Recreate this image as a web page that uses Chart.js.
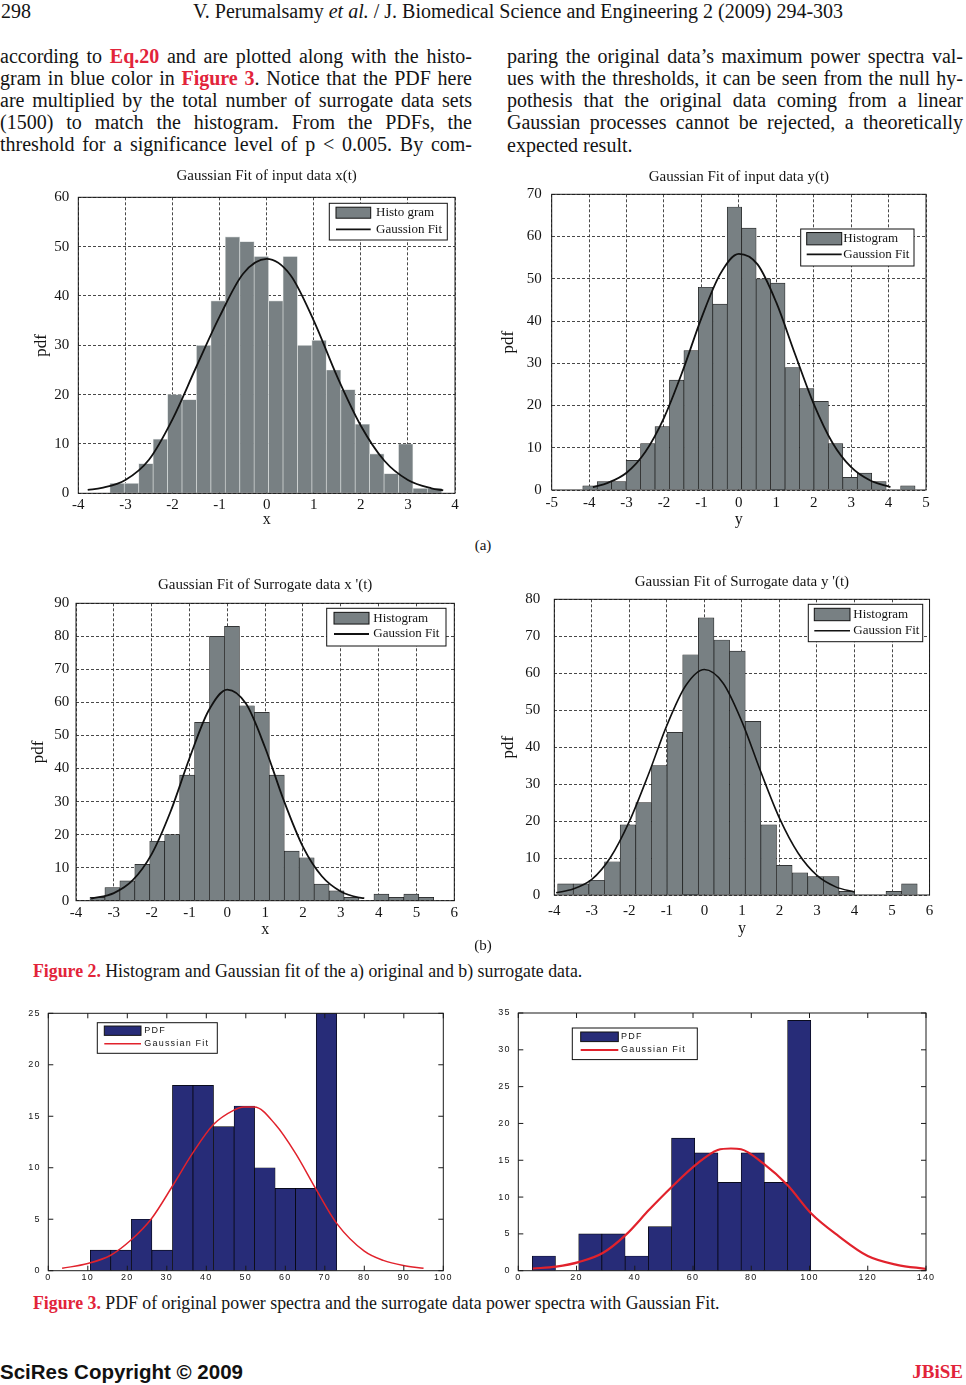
<!DOCTYPE html>
<html>
<head>
<meta charset="utf-8">
<script src="https://cdn.jsdelivr.net/npm/chart.js@4.4.0/dist/chart.umd.min.js"></script>
<style>
  body { margin: 0; background: #fff; width: 966px; height: 1385px; position: relative; overflow: hidden;
         font-family: "Liberation Serif", "Times New Roman", serif; color: #141414; }
  .t { position: absolute; white-space: nowrap; }
  .j { position: absolute; font-size: 20px; line-height: 22px; height: 22px; white-space: nowrap;
       text-align: justify; text-align-last: justify; }
  .red { color: #e2243a; font-weight: bold; }
  canvas { position: absolute; }
</style>
</head>
<body>

<div class="t" style="left:1px;top:0;font-size:20px;line-height:22px">298</div>
<div class="t" style="left:193px;top:0;font-size:20px;line-height:22px">V. Perumalsamy <i>et al.</i> / J. Biomedical Science and Engineering 2 (2009) 294-303</div>

<div class="j" style="left:0;top:45px;width:472px">according to <span class="red">Eq.20</span> and are plotted along with the histo-</div>
<div class="j" style="left:0;top:67px;width:472px">gram in blue color in <span class="red">Figure 3</span>. Notice that the PDF here</div>
<div class="j" style="left:0;top:89px;width:472px">are multiplied by the total number of surrogate data sets</div>
<div class="j" style="left:0;top:111px;width:472px">(1500) to match the histogram. From the PDFs, the</div>
<div class="j" style="left:0;top:133px;width:472px">threshold for a significance level of p &lt; 0.005. By com-</div>

<div class="j" style="left:507px;top:45px;width:456px">paring the original data’s maximum power spectra val-</div>
<div class="j" style="left:507px;top:67px;width:456px">ues with the thresholds, it can be seen from the null hy-</div>
<div class="j" style="left:507px;top:89px;width:456px">pothesis that the original data coming from a linear</div>
<div class="j" style="left:507px;top:111px;width:456px">Gaussian processes cannot be rejected, a theoretically</div>
<div class="t" style="left:507px;top:134px;font-size:20px;line-height:22px">expected result.</div>

<canvas id="c1" width="450" height="370" style="left:20px;top:160px"></canvas>
<canvas id="c2" width="450" height="370" style="left:490px;top:160px"></canvas>
<div class="t" style="left:0;width:966px;top:536px;font-size:15px;line-height:18px;text-align:center">(a)</div>

<canvas id="c3" width="450" height="370" style="left:20px;top:570px"></canvas>
<canvas id="c4" width="450" height="370" style="left:490px;top:570px"></canvas>
<div class="t" style="left:0;width:966px;top:936px;font-size:15px;line-height:18px;text-align:center">(b)</div>

<div class="t" style="left:33px;top:960px;font-size:17.8px;line-height:22px"><span class="red">Figure 2.</span> Histogram and Gaussian fit of the a) original and b) surrogate data.</div>

<canvas id="c5" width="470" height="290" style="left:0;top:1000px"></canvas>
<canvas id="c6" width="496" height="290" style="left:470px;top:1000px"></canvas>

<div class="t" style="left:33px;top:1292px;font-size:17.8px;line-height:22px"><span class="red">Figure 3.</span> PDF of original power spectra and the surrogate data power spectra with Gaussian Fit.</div>

<div class="t" style="left:0;top:1360px;font-size:20.5px;line-height:24px;font-family:'Liberation Sans',Arial,sans-serif;font-weight:bold;color:#111">SciRes Copyright © 2009</div>
<div class="t" style="right:3px;top:1360px;font-size:19px;line-height:24px;font-weight:bold;color:#e2243a">JBiSE</div>

<script>
// Figure 2 (a): input data x(t), histogram bin centres and counts
const inputXCenters = [-3.177, -2.870, -2.564, -2.257, -1.951, -1.644, -1.338, -1.031, -0.725, -0.418, -0.112, 0.195,
  0.501, 0.808, 1.114, 1.421, 1.727, 2.034, 2.340, 2.647, 2.953, 3.260, 3.566];
const inputXCounts = [2, 2, 6, 11, 20, 19, 30, 39, 52, 51, 48, 39, 48, 30, 31, 25, 21, 14, 8, 4, 10, 1, 1];
const inputXFitX = [-3.8, -3.5, -3, -2.5, -2, -1.5, -1, -0.5, 0, 0.5, 1, 1.5, 2, 2.5, 3, 3.5, 3.75];
const inputXFitY = [0.7, 1.1, 2.7, 6.8, 15, 25.5, 35.8, 44.5, 47.5, 44.3, 35, 23.6, 13.7, 6.6, 2.7, 1.0, 0.6];

// input data y(t)
const inputYCenters = [-3.977, -3.591, -3.205, -2.819, -2.433, -2.047, -1.661, -1.275, -0.889, -0.503, -0.117, 0.269,
  0.655, 1.041, 1.427, 1.813, 2.199, 2.585, 2.971, 3.357, 3.743, 4.129, 4.515];
const inputYCounts = [1, 2, 2, 7, 11, 15, 26, 33, 48, 44, 67, 62, 50, 49, 29, 24, 21, 11, 3, 4, 2, 0, 1];
const inputYFitX = [-3.9, -3.5, -3, -2.5, -2, -1.5, -1, -0.5, 0, 0.5, 1, 1.5, 2, 2.5, 3, 3.5, 4.05];
const inputYFitY = [0.7, 1.7, 4.1, 9, 17.1, 28.2, 40.7, 51.1, 55.9, 53.4, 44.4, 32.2, 20.4, 11.2, 5.4, 2.3, 0.7];

// Figure 2 (b): surrogate data x'(t)
const surrXCenters = [-3.433, -3.038, -2.643, -2.248, -1.853, -1.458, -1.063, -0.668, -0.273, 0.123, 0.518, 0.913,
  1.308, 1.703, 2.098, 2.493, 2.888, 3.283, 3.678, 4.073, 4.468, 4.863, 5.258];
const surrXCounts = [1, 4, 6, 11, 18, 20, 38, 54, 80, 83, 59, 57, 38, 15, 13, 5, 3, 1, 0, 2, 1, 2, 1];
const surrXFitX = [-3.6, -3, -2.5, -2, -1.5, -1, -0.5, 0, 0.5, 1, 1.5, 2, 2.5, 3, 3.5, 3.62];
const surrXFitY = [0.6, 2.3, 6.2, 14.1, 27, 43.1, 57.4, 63.9, 59.5, 46.3, 30.1, 16.3, 7.4, 2.8, 0.9, 0.75];

// surrogate data y'(t)
const surrYCenters = [-3.703, -3.287, -2.870, -2.453, -2.037, -1.620, -1.203, -0.787, -0.370, 0.047, 0.463, 0.880,
  1.297, 1.713, 2.130, 2.547, 2.963, 3.380, 3.797, 4.213, 4.630, 5.047, 5.463];
const surrYCounts = [3, 3, 4, 9, 19, 25, 35, 44, 65, 75, 69, 66, 47, 19, 8, 6, 5, 5, 1, 0, 0, 1, 3];
const surrYFitX = [-3.95, -3.5, -3, -2.5, -2, -1.5, -1, -0.5, 0, 0.5, 1, 1.5, 2, 2.5, 3, 3.5, 4];
const surrYFitY = [0.6, 1.6, 4.2, 10.2, 19.9, 32.4, 45.9, 56.6, 61, 57.3, 46.9, 33.4, 20.8, 11.3, 5.3, 2.2, 0.8];

// Figure 3: PDF of original power spectra
const origPowCenters = [13.23, 18.43, 23.63, 28.83, 34.03, 39.23, 44.43, 49.63, 54.83, 60.03, 65.23, 70.43];
const origPowCounts = [2, 2, 5, 2, 18, 18, 14, 16, 10, 8, 8, 25];
const origPowFitX = [3.5, 10, 15.8, 21, 26.2, 31.4, 36.5, 41.8, 47, 49.5, 52.2, 57.5, 62.6, 67.8, 73, 80, 84.8, 89.9, 95];
const origPowFitY = [0.23, 0.7, 1.5, 3.0, 5.1, 8.2, 11.4, 14.2, 15.6, 15.9, 15.9, 14.2, 11.4, 7.9, 4.6, 1.9, 1.0, 0.5, 0.23];

// surrogate data power spectra
const surrPowCenters = [8.785, 16.755, 24.725, 32.695, 40.665, 48.635, 56.605, 64.575, 72.545, 80.515, 88.485, 96.455];
const surrPowCounts = [2, 0, 5, 5, 2, 6, 18, 16, 12, 16, 12, 34];
const surrPowFitX = [5, 13, 21, 29, 37, 45, 52.5, 61, 68.5, 73, 76.5, 84, 92.5, 100.5, 110, 120, 130, 140];
const surrPowFitY = [0.3, 0.55, 1.2, 2.4, 4.9, 8.3, 11.3, 14.4, 16.4, 16.6, 16.5, 14.6, 11.6, 7.8, 4.7, 2.0, 0.8, 0.25];

Chart.defaults.font.family = '"Liberation Serif", "Times New Roman", serif';
Chart.defaults.color = '#141414';

// black box round the plot area, with optional inward ticks on all four sides
const framePlugin = {
  id: 'frame',
  afterDatasetsDraw(chart, args, opts) {
    const { ctx, chartArea: a } = chart;
    ctx.save();
    ctx.strokeStyle = opts.color;
    ctx.lineWidth = 1;
    ctx.setLineDash([]);
    ctx.strokeRect(a.left, a.top, a.right - a.left, a.bottom - a.top);
    if (opts.tickLen) {
      const len = opts.tickLen;
      const xs = chart.scales.x;
      const ys = chart.scales.y;
      ctx.beginPath();
      xs.ticks.forEach((t) => {
        const p = xs.getPixelForValue(t.value);
        ctx.moveTo(p, a.bottom);
        ctx.lineTo(p, a.bottom - len);
        ctx.moveTo(p, a.top);
        ctx.lineTo(p, a.top + len);
      });
      ys.ticks.forEach((t) => {
        const p = ys.getPixelForValue(t.value);
        ctx.moveTo(a.left, p);
        ctx.lineTo(a.left + len, p);
        ctx.moveTo(a.right, p);
        ctx.lineTo(a.right - len, p);
      });
      ctx.stroke();
    }
    ctx.restore();
  },
};

// boxed legend placed inside the plot, like the MATLAB one
const boxLegend = {
  id: 'boxLegend',
  beforeDraw(chart, args, opts) {
    if (opts.spacing) chart.ctx.letterSpacing = opts.spacing;
  },
  afterDraw(chart, args, o) {
    const { ctx, chartArea: a } = chart;
    const bar = chart.data.datasets.find((d) => d.type === 'bar');
    const line = chart.data.datasets.find((d) => d.type === 'line');
    const x = a.left + o.x;
    const y = a.top + o.y;
    ctx.save();
    ctx.fillStyle = '#fff';
    ctx.fillRect(x, y, o.w, o.h);
    ctx.strokeStyle = '#111';
    ctx.lineWidth = 1;
    ctx.strokeRect(x, y, o.w, o.h);
    ctx.fillStyle = bar.backgroundColor;
    ctx.fillRect(x + o.px, y + o.row1 - o.ph / 2, o.pw, o.ph);
    ctx.strokeStyle = '#111';
    ctx.strokeRect(x + o.px, y + o.row1 - o.ph / 2, o.pw, o.ph);
    ctx.strokeStyle = line.borderColor;
    ctx.lineWidth = line.borderWidth;
    ctx.beginPath();
    ctx.moveTo(x + o.px, y + o.row2);
    ctx.lineTo(x + o.px + o.pw, y + o.row2);
    ctx.stroke();
    ctx.fillStyle = '#141414';
    ctx.font = o.font;
    ctx.letterSpacing = o.spacing || '0px';
    ctx.textBaseline = 'middle';
    ctx.fillText(bar.label, x + o.tx, y + o.row1);
    ctx.fillText(line.label, x + o.tx, y + o.row2);
    ctx.restore();
  },
};

function histChart(id, c) {
  const tickFont = c.sans
    ? { family: '"Liberation Sans", Arial, sans-serif', size: 9 }
    : { size: 15 };
  return new Chart(document.getElementById(id), {
    type: 'bar',
    data: {
      datasets: [
        {
          type: 'line',
          label: c.lineLabel,
          data: c.fitX.map((x, i) => ({ x: x, y: c.fitY[i] })),
          borderColor: c.lineColor,
          borderWidth: c.lineWidth,
          pointRadius: 0,
          cubicInterpolationMode: 'monotone',
          order: 0,
        },
        {
          type: 'bar',
          label: c.barLabel,
          data: c.centers.map((x, i) => ({ x: x, y: c.counts[i] })),
          backgroundColor: c.barColor,
          borderColor: c.barEdge,
          borderWidth: 0.7,
          barPercentage: 1,
          categoryPercentage: 1,
          order: 1,
        },
      ],
    },
    options: {
      responsive: false,
      animation: false,
      events: [],
      layout: { padding: { top: c.padTop, right: c.padRight, left: 0, bottom: 0 } },
      plugins: {
        legend: { display: false },
        tooltip: { enabled: false },
        title: c.title
          ? { display: true, text: c.title, fullSize: false, color: '#141414',
              font: { size: 15, weight: 'normal' }, padding: { top: 0, bottom: c.titleGap } }
          : { display: false },
        frame: { color: '#1a1a1a', tickLen: c.sans ? 5 : 0 },
        boxLegend: c.legend,
      },
      scales: {
        x: {
          type: 'linear',
          min: c.xMin,
          max: c.xMax,
          offset: false,
          grid: { display: !c.sans, offset: false, color: '#333', lineWidth: 0.9, drawTicks: false },
          border: { display: false, dash: [3, 2] },
          ticks: { stepSize: c.xStep, padding: c.xTickPad, font: tickFont, color: '#141414', maxRotation: 0, autoSkip: false },
          title: {
            display: !!c.xTitle, text: c.xTitle, color: '#141414',
            font: { size: 16 }, padding: { top: 0, bottom: c.xTitlePad },
          },
          afterFit: (s) => { s.height = c.xH; },
        },
        y: {
          min: 0,
          max: c.yMax,
          grid: { display: !c.sans, color: '#333', lineWidth: 0.9, drawTicks: false },
          border: { display: false, dash: [3, 2] },
          ticks: { stepSize: c.yStep, padding: c.yTickPad, font: tickFont, color: '#141414', autoSkip: false },
          title: {
            display: !c.sans, text: 'pdf', color: '#141414',
            font: { size: 17 }, padding: { top: c.yTitlePad, bottom: 0 },
          },
          afterFit: (s) => { s.width = c.yW; },
        },
      },
    },
    plugins: [framePlugin, boxLegend],
  });
}

const grayBar = '#788083';
const serifLegendFont = '13px "Liberation Serif", serif';
const sansLegendFont = '9px "Liberation Sans", Arial, sans-serif';

histChart('c1', {
  title: 'Gaussian Fit of input data x(t)', padTop: 6.6, titleGap: 12.7, padRight: 15,
  yW: 58.3, xH: 36.7, xMin: -4, xMax: 4, xStep: 1, yMax: 60, yStep: 10,
  xTickPad: 2.7, yTickPad: 9, xTitle: 'x', xTitlePad: 0.4, yTitlePad: 11.5,
  centers: inputXCenters, counts: inputXCounts, fitX: inputXFitX, fitY: inputXFitY,
  barColor: grayBar, barEdge: '#d4d8d8', lineColor: '#111', lineWidth: 1.8,
  barLabel: 'Histo gram', lineLabel: 'Gaussion Fit',
  legend: { x: 251, y: 6, w: 118, h: 36.7, px: 6.7, pw: 34.7, ph: 11, row1: 9.4, row2: 26, tx: 46.7, font: serifLegendFont },
});

histChart('c2', {
  title: 'Gaussian Fit of input data y(t)', padTop: 8.3, titleGap: 8, padRight: 14,
  yW: 61.7, xH: 40, xMin: -5, xMax: 5, xStep: 1, yMax: 70, yStep: 10,
  xTickPad: 4.3, yTickPad: 10, xTitle: 'y', xTitlePad: 0.4, yTitlePad: 8.1,
  centers: inputYCenters, counts: inputYCounts, fitX: inputYFitX, fitY: inputYFitY,
  barColor: grayBar, barEdge: '#1c1c1c', lineColor: '#111', lineWidth: 1.8,
  barLabel: 'Histogram', lineLabel: 'Gaussion Fit',
  legend: { x: 249, y: 34.7, w: 113.3, h: 37, px: 6, pw: 35, ph: 12.3, row1: 9.7, row2: 25.3, tx: 42.6, font: serifLegendFont },
});

histChart('c3', {
  title: "Gaussian Fit of Surrogate data x '(t)", padTop: 6, titleGap: 9.3, padRight: 15.7,
  yW: 56, xH: 39.3, xMin: -4, xMax: 6, xStep: 1, yMax: 90, yStep: 10,
  xTickPad: 3.6, yTickPad: 6.7, xTitle: 'x', xTitlePad: 0.4, yTitlePad: 8.1,
  centers: surrXCenters, counts: surrXCounts, fitX: surrXFitX, fitY: surrXFitY,
  barColor: grayBar, barEdge: '#1c1c1c', lineColor: '#111', lineWidth: 1.8,
  barLabel: 'Histogram', lineLabel: 'Gaussion Fit',
  legend: { x: 250.7, y: 5, w: 119.3, h: 37.7, px: 7.3, pw: 35, ph: 11.7, row1: 9.9, row2: 25.7, tx: 46.6, font: serifLegendFont },
});

histChart('c4', {
  title: "Gaussian Fit of Surrogate data y '(t)", padTop: 2.7, titleGap: 8.6, padRight: 8.3,
  yW: 64.3, xH: 45, xMin: -4, xMax: 6, xStep: 1, yMax: 80, yStep: 10,
  xTickPad: 6.7, yTickPad: 14, xTitle: 'y', xTitlePad: 2.1, yTitlePad: 8.1,
  centers: surrYCenters, counts: surrYCounts, fitX: surrYFitX, fitY: surrYFitY,
  barColor: grayBar, barEdge: '#1c1c1c', lineColor: '#111', lineWidth: 1.6,
  barLabel: 'Histogram', lineLabel: 'Gaussion Fit',
  legend: { x: 254, y: 5, w: 114.4, h: 37.4, px: 6, pw: 35.7, ph: 12.4, row1: 10.2, row2: 26.4, tx: 45, font: serifLegendFont },
});

histChart('c5', {
  sans: true, padTop: 13.3, padRight: 26.7,
  yW: 48.3, xH: 19.3, xMin: 0, xMax: 100, xStep: 10, yMax: 25, yStep: 5,
  xTickPad: 1.2, yTickPad: 7.6,
  centers: origPowCenters, counts: origPowCounts, fitX: origPowFitX, fitY: origPowFitY,
  barColor: '#272c78', barEdge: '#000', lineColor: '#e1222c', lineWidth: 1.5,
  barLabel: 'PDF', lineLabel: 'Gaussian Fit',
  legend: { x: 49, y: 9.4, w: 120, h: 30.6, px: 7, pw: 36.7, ph: 9.3, row1: 8, row2: 21, tx: 47, font: sansLegendFont, spacing: '1.2px' },
});

histChart('c6', {
  sans: true, padTop: 11.7, padRight: 40,
  yW: 48.3, xH: 19.3, xMin: 0, xMax: 140, xStep: 20, yMax: 35, yStep: 5,
  xTickPad: 1.2, yTickPad: 7.6,
  centers: surrPowCenters, counts: surrPowCounts, fitX: surrPowFitX, fitY: surrPowFitY,
  barColor: '#272c78', barEdge: '#000', lineColor: '#e1222c', lineWidth: 2.2,
  barLabel: 'PDF', lineLabel: 'Gaussian Fit',
  legend: { x: 54, y: 15, w: 125, h: 31.6, px: 8.4, pw: 37.6, ph: 9.6, row1: 8.8, row2: 22, tx: 48.7, font: sansLegendFont, spacing: '1.2px' },
});
</script>
</body>
</html>
